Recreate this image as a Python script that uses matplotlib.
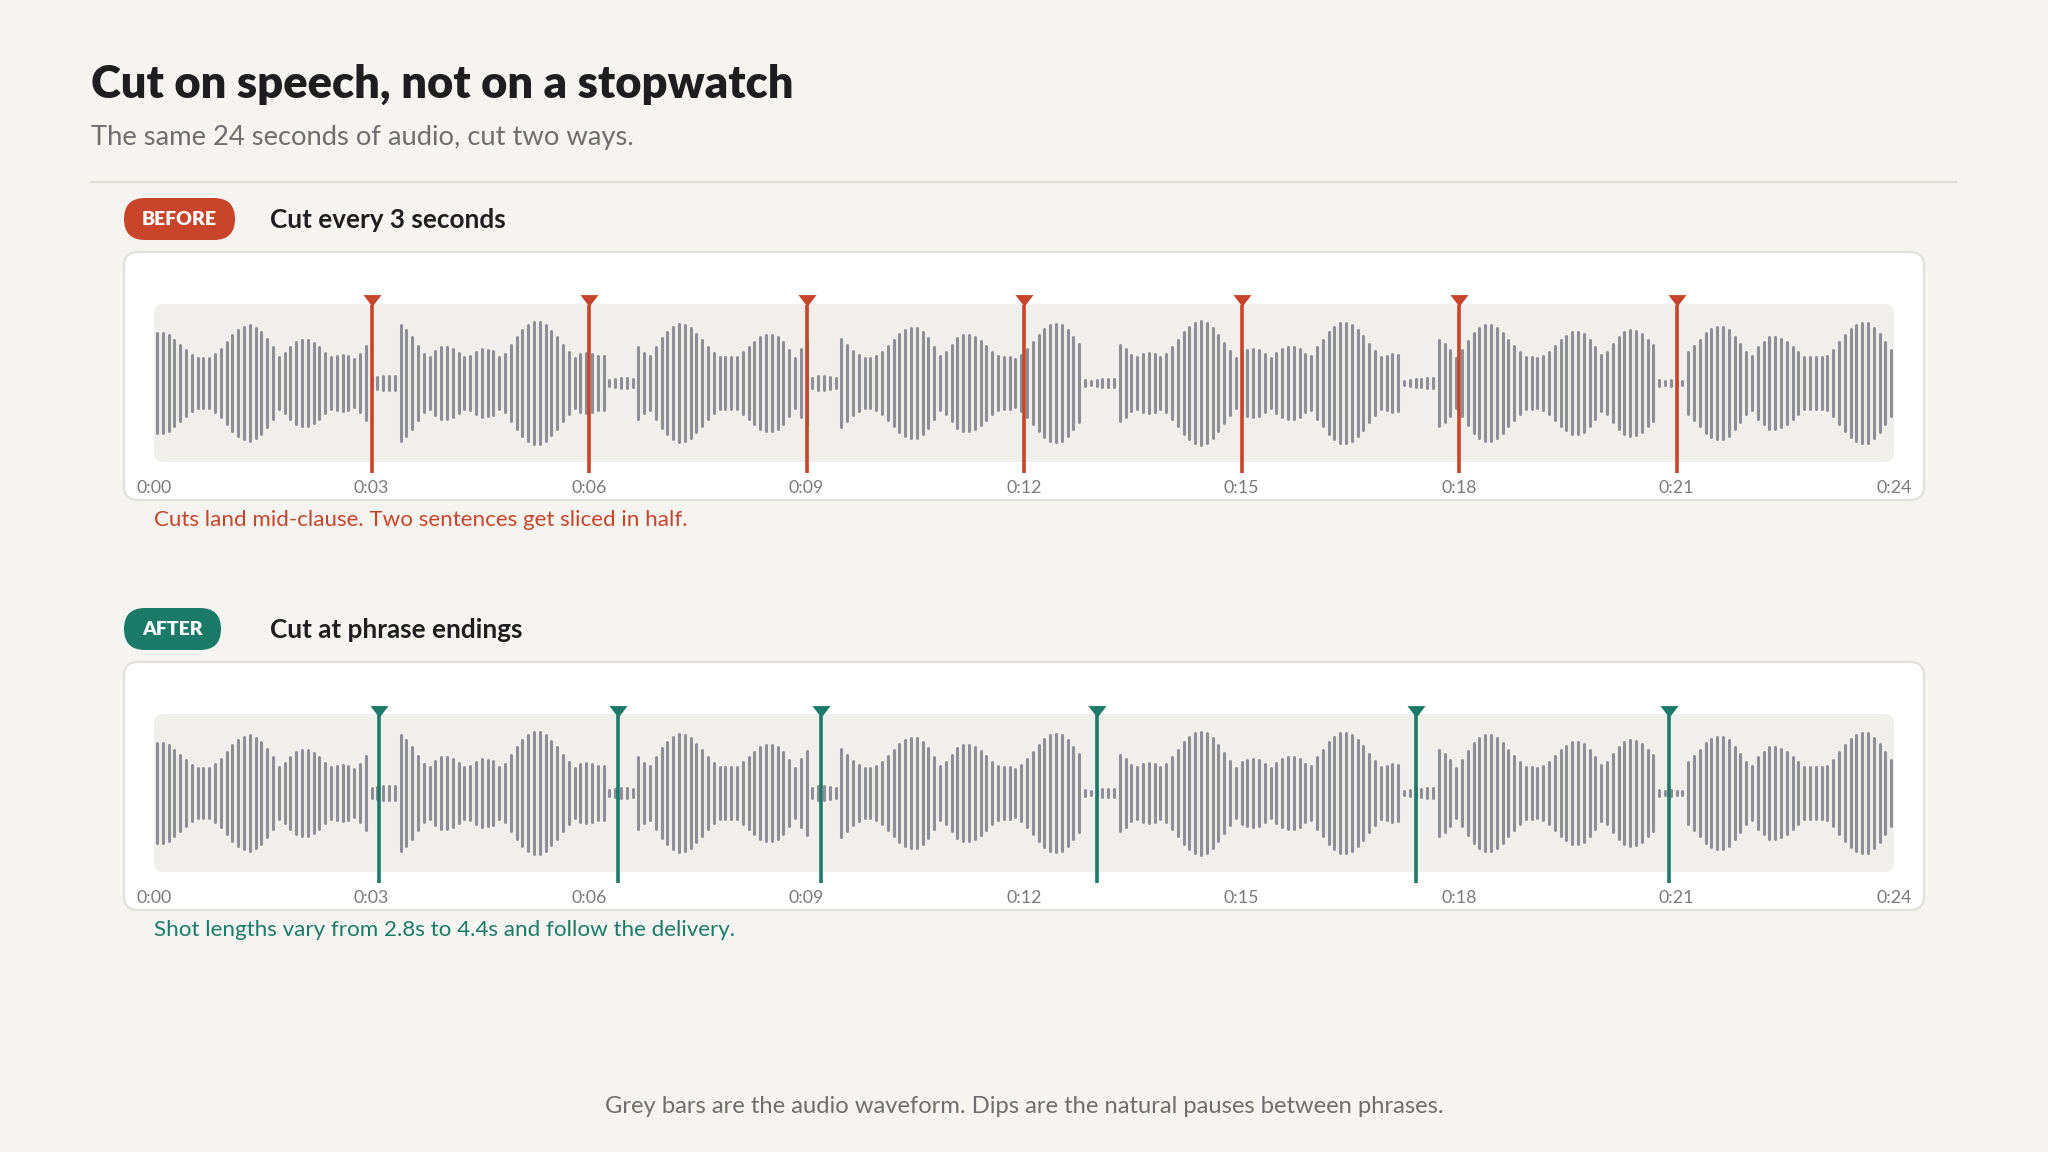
import numpy as np
import matplotlib.pyplot as plt
from matplotlib.patches import FancyBboxPatch
from matplotlib.path import Path

plt.rcParams['font.family'] = ['Lato', 'DejaVu Sans']

# ---------------- data ----------------
duration = 24
tick_secs = [0, 3, 6, 9, 12, 15, 18, 21, 24]
tick_labels = ['0:00', '0:03', '0:06', '0:09', '0:12', '0:15', '0:18', '0:21', '0:24']
before_cuts = [3, 6, 9, 12, 15, 18, 21]
after_cuts = [3.1, 6.4, 9.2, 13.0, 17.4, 20.9]

# waveform bar amplitude, percent of the loudest bar (300 bars over 24 s)
amp = [81, 81, 79, 71, 63, 54, 47, 42, 42, 42, 48, 57, 67, 78, 87, 92, 94, 90, 84, 72,
       60, 44, 50, 60, 68, 70, 70, 66, 59, 50, 43, 46, 47, 46, 41, 49, 61, 10, 12, 13,
       14, 14, 94, 86, 76, 61, 48, 44, 53, 59, 59, 57, 50, 43, 46, 52, 56, 55, 53, 44,
       48, 63, 75, 87, 95, 99, 99, 94, 85, 75, 63, 51, 42, 48, 50, 49, 46, 46, 7, 8,
       10, 10, 9, 60, 50, 46, 60, 74, 84, 92, 96, 95, 90, 80, 71, 60, 50, 43, 43, 43,
       43, 51, 59, 67, 75, 79, 79, 76, 67, 55, 42, 56, 69, 11, 13, 13, 12, 11, 72, 63,
       53, 47, 42, 42, 46, 51, 61, 70, 80, 86, 89, 89, 83, 74, 60, 46, 51, 63, 74, 78,
       79, 76, 69, 61, 52, 46, 43, 44, 41, 47, 57, 68, 78, 88, 94, 96, 94, 87, 76, 64,
       7, 6, 7, 9, 9, 9, 63, 56, 47, 43, 48, 50, 49, 44, 48, 59, 71, 83, 92, 97,
       100, 97, 89, 79, 66, 53, 42, 51, 55, 57, 55, 48, 42, 50, 56, 60, 60, 57, 48, 46,
       59, 71, 84, 92, 98, 98, 95, 87, 77, 64, 53, 44, 46, 48, 47, 6, 7, 9, 9, 10,
       11, 70, 64, 54, 42, 55, 69, 81, 89, 94, 94, 89, 81, 71, 61, 51, 44, 43, 42, 46,
       52, 61, 70, 77, 83, 83, 80, 71, 60, 47, 51, 65, 76, 83, 86, 85, 80, 71, 63, 7,
       6, 7, 6, 6, 52, 61, 71, 81, 88, 92, 92, 87, 76, 64, 51, 46, 59, 68, 75, 76,
       72, 67, 59, 51, 43, 44, 44, 43, 46, 55, 67, 78, 88, 95, 98, 97, 90, 80, 68, 54]

# ---------------- style ----------------
W, H = 2048, 1152
BG = '#F5F4F0'
RED = '#C8442A'
TEAL = '#1B7A68'
BAR = '#8E8E96'
WAVE_BG = '#F0EFEB'
INK = '#1E1E1E'
MUTED = '#6E6E6E'

fig = plt.figure(figsize=(W / 100, H / 100), dpi=100, facecolor=BG)
base = fig.add_axes([0, 0, 1, 1])
base.set_xlim(0, W)
base.set_ylim(H, 0)
base.axis('off')

base.text(91, 98, 'Cut on speech, not on a stopwatch', fontsize=32.7, fontweight='heavy',
          color=INK, va='baseline')
base.text(91, 145, 'The same 24 seconds of audio, cut two ways.', fontsize=19.7,
          color=MUTED, va='baseline')
base.plot([91, 1956], [181.5, 181.5], color='#DEDCD7', lw=1.6)

tri = Path([(-1, 0.6), (1, 0.6), (0, -0.7), (-1, 0.6)],
           [Path.MOVETO, Path.LINETO, Path.LINETO, Path.CLOSEPOLY])

PX = 63.0          # pixels per unit of amplitude
wx0, wx1 = 154, 1894


def panel(y0, color, tag, tag_w, heading, cuts, caption):
    # tag pill + heading
    base.add_patch(FancyBboxPatch((124, y0 - 54), tag_w, 42,
                                  boxstyle='round,pad=0,rounding_size=21',
                                  fc=color, ec='none'))
    base.text(124 + tag_w / 2, y0 - 32.5, tag, fontsize=14, fontweight='heavy',
              color='white', ha='center', va='center')
    base.text(270, y0 - 32.5, heading, fontsize=18.8, fontweight='bold',
              color=INK, va='center')
    # white card and waveform strip
    base.add_patch(FancyBboxPatch((124, y0), 1800, 248,
                                  boxstyle='round,pad=0,rounding_size=14',
                                  fc='white', ec='#E3E0DB', lw=1.6))
    base.add_patch(FancyBboxPatch((wx0, y0 + 52), wx1 - wx0, 158,
                                  boxstyle='round,pad=0,rounding_size=10',
                                  fc=WAVE_BG, ec='none'))
    base.text(wx0, y0 + 274, caption, fontsize=16.1, color=color, va='baseline')

    # waveform axes, 0 at strip centre
    top, bot = y0 + 38, y0 + 224
    mid = y0 + 131
    ax = fig.add_axes([wx0 / W, 1 - bot / H, (wx1 - wx0) / W, (bot - top) / H])
    ax.set_xlim(0, duration)
    ax.set_ylim(-(bot - mid) / PX, (mid - top) / PX)
    ax.axis('off')
    ax.patch.set_alpha(0)

    t = (np.arange(len(amp)) + 0.5) * duration / len(amp)
    half = np.maximum(np.array(amp) / 100.0 - 1.5 / PX, 0.02)
    ax.vlines(t, -half, half, colors=BAR, lw=2.2, capstyle='round')

    ax.vlines(cuts, -90 / PX, 78 / PX, colors=color, lw=2.6, clip_on=False)
    ax.plot(cuts, [(mid - y0 - 48.5) / PX] * len(cuts), ls='none', marker=tri,
            ms=13, color=color, mec='none', clip_on=False)

    for s, lab in zip(tick_secs, tick_labels):
        ax.text(s, -(236 - 131) / PX, lab, fontsize=12.8, color='#7A7A7A',
                ha='center', va='center', clip_on=False)


panel(252, RED, 'BEFORE', 111, 'Cut every 3 seconds', before_cuts,
      'Cuts land mid-clause. Two sentences get sliced in half.')
panel(662, TEAL, 'AFTER', 97, 'Cut at phrase endings', after_cuts,
      'Shot lengths vary from 2.8s to 4.4s and follow the delivery.')

base.text(W / 2, 1113, 'Grey bars are the audio waveform. Dips are the natural pauses between phrases.',
          fontsize=17.1, color=MUTED, ha='center', va='baseline')

fig.savefig('out.png', dpi=100, facecolor=BG)
